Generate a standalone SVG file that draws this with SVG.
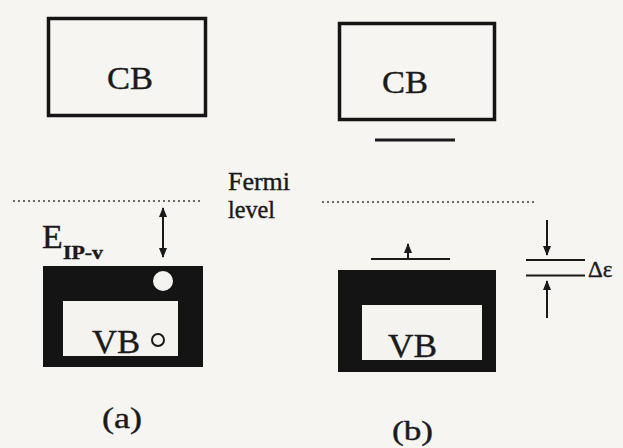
<svg xmlns="http://www.w3.org/2000/svg" width="623" height="448" viewBox="0 0 623 448">
  <style>
    .txt { font-family: 'Liberation Serif', 'DejaVu Serif', 'Times New Roman', serif; fill: #1a1a1a; stroke: #1a1a1a; stroke-width: 0.4; }
    .band { fill: none; stroke: #151515; stroke-width: 3.5; }
    .solid { fill: #141414; }
    .hole { fill: #f4f3ef; }
    .fermi { stroke: #6a6a6a; stroke-width: 2; stroke-dasharray: 2 3; fill: none; }
    .line { stroke: #1a1a1a; stroke-width: 2; fill: none; }
    .level { stroke: #1a1a1a; stroke-width: 3; fill: none; }
  </style>
  <defs>
    <marker id="arrow" viewBox="0 0 10 10" refX="9" refY="5" markerWidth="5" markerHeight="5" orient="auto-start-reverse" markerUnits="strokeWidth">
      <path d="M0,1 L10,5 L0,9 Z" fill="#1a1a1a"/>
    </marker>
  </defs>

  <rect width="623" height="448" fill="#f6f5f1"/>

  <!-- panel (a) -->
  <g id="cb-a">
    <rect class="band" x="48.5" y="18.5" width="157" height="97"/>
    <text class="txt" x="130" y="89" font-size="32" text-anchor="middle" textLength="46" lengthAdjust="spacingAndGlyphs">CB</text>
  </g>
  <g id="vb-a">
    <rect class="solid" x="43" y="266" width="160" height="101"/>
    <rect class="hole" x="63" y="301" width="115" height="55"/>
    <text class="txt" x="92" y="353" font-size="34" textLength="48" lengthAdjust="spacingAndGlyphs">VB</text>
    <circle cx="163" cy="281" r="10" fill="#f4f3ef"/>
    <circle cx="158" cy="340" r="6" fill="none" stroke="#1a1a1a" stroke-width="2"/>
  </g>
  <g id="label-eip">
    <text class="txt" x="42" y="248" font-size="34">E</text>
    <text class="txt" x="63" y="259" font-size="19" font-weight="bold" textLength="40" lengthAdjust="spacingAndGlyphs">IP-v</text>
  </g>
  <g id="label-fermi">
    <text class="txt" x="228" y="190" font-size="25" textLength="62" lengthAdjust="spacingAndGlyphs">Fermi</text>
    <text class="txt" x="228" y="218" font-size="25" textLength="47" lengthAdjust="spacingAndGlyphs">level</text>
  </g>
  <text class="txt" x="102" y="428" font-size="30" textLength="40" lengthAdjust="spacingAndGlyphs">(a)</text>

  <!-- panel (b) -->
  <g id="cb-b">
    <rect class="band" x="339.5" y="23.5" width="155" height="96"/>
    <text class="txt" x="405" y="93" font-size="32" text-anchor="middle" textLength="46" lengthAdjust="spacingAndGlyphs">CB</text>
  </g>
  <g id="vb-b">
    <rect class="solid" x="338" y="270" width="158" height="102"/>
    <rect class="hole" x="362" y="305" width="120" height="55"/>
    <text class="txt" x="388" y="357" font-size="34" textLength="49" lengthAdjust="spacingAndGlyphs">VB</text>
  </g>
  <g id="label-delta">
    <text class="txt" x="588" y="277" font-size="23">Δε</text>
  </g>
  <text class="txt" x="392" y="440" font-size="28" textLength="41" lengthAdjust="spacingAndGlyphs">(b)</text>

  <!-- levels and arrows -->
  <g id="connectors">
    <line class="fermi" x1="13" y1="201" x2="203" y2="201"/>
    <line class="fermi" x1="322" y1="202" x2="534" y2="202"/>
    <line class="line" x1="163" y1="208" x2="163" y2="257" marker-start="url(#arrow)" marker-end="url(#arrow)" stroke-width="1.8"/>
    <line class="level" x1="375" y1="140" x2="455" y2="140"/>
    <line class="line" x1="371" y1="259" x2="450" y2="259"/>
    <line class="line" x1="408" y1="259" x2="408" y2="244" marker-end="url(#arrow)"/>
    <line class="line" x1="526" y1="260" x2="585" y2="260"/>
    <line class="line" x1="526" y1="275.5" x2="585" y2="275.5"/>
    <line class="line" x1="547" y1="220" x2="547" y2="255" marker-end="url(#arrow)"/>
    <line class="line" x1="547" y1="318" x2="547" y2="281" marker-end="url(#arrow)"/>
  </g>
</svg>
